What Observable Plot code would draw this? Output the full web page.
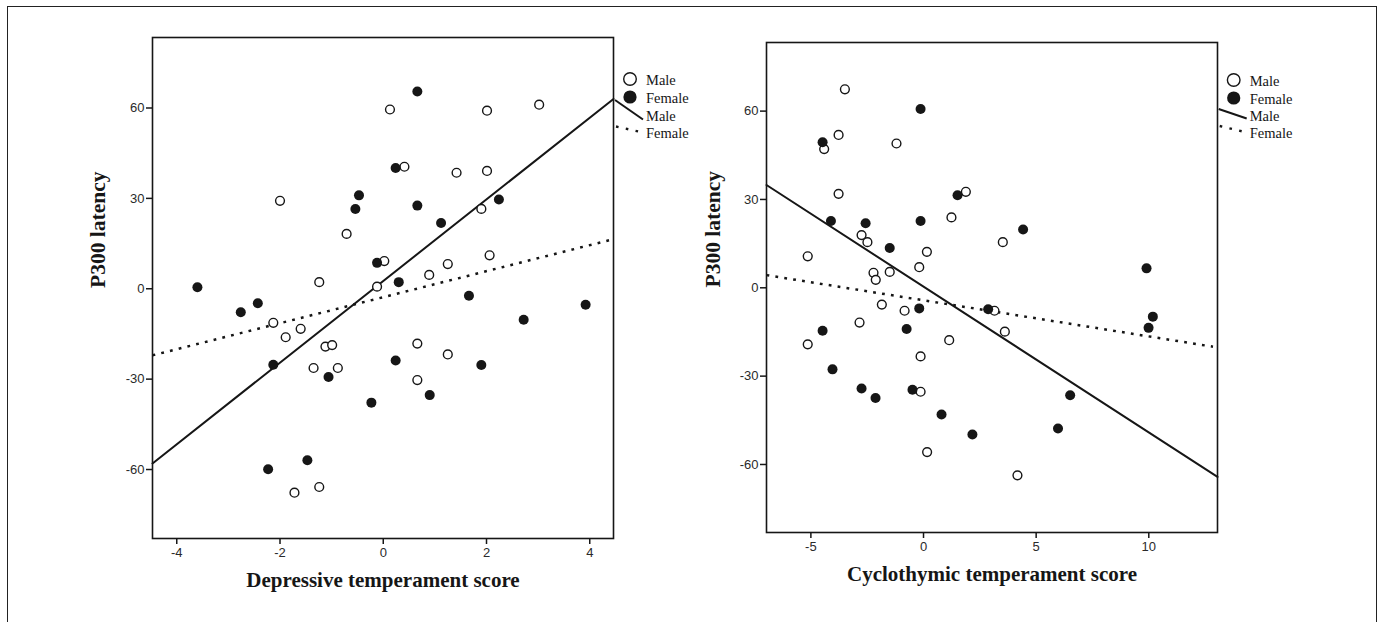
<!DOCTYPE html>
<html>
<head>
<meta charset="utf-8">
<script src="https://cdn.jsdelivr.net/npm/d3@7"></script>
<script src="https://cdn.jsdelivr.net/npm/@observablehq/plot@0.6"></script>
<style>
  html, body { margin: 0; padding: 0; background: #fff; }
  #wrap { position: relative; width: 1380px; height: 622px; overflow: hidden; background: #fff; }
  #border { position: absolute; left: 7px; top: 6px; width: 1368px; height: 700px; border: 1.3px solid #222; box-sizing: content-box; }
  .panel { position: absolute; top: 0; }
  #legend { position: absolute; left: 0; top: 0; pointer-events: none; }
</style>
</head>
<body>
<div id="wrap"><div id="border"></div></div>
<script>
// ---------- Data ----------
const legendLabels = ["Male", "Female", "Male", "Female"];
const yLabel = "P300 latency";
const yTicks = [-60, -30, 0, 30, 60];

// Panel 1: Depressive temperament score
const depressiveLabel = "Depressive temperament score";
const depressiveTicks = [-4, -2, 0, 2, 4];
const depressiveMale = [
  [0.13, 59.5], [2.01, 59.1], [3.02, 61.1], [0.41, 40.5], [1.42, 38.5], [2.01, 39.1],
  [-2.0, 29.2], [1.90, 26.5], [-0.71, 18.2], [0.02, 9.2], [2.06, 11.1], [1.25, 8.2],
  [0.89, 4.6], [-1.24, 2.2], [-0.12, 0.7], [-2.13, -11.3], [-1.60, -13.3], [-1.89, -16.1],
  [-1.12, -19.2], [-0.99, -18.7], [-1.35, -26.3], [-0.88, -26.3], [0.66, -18.2], [1.25, -21.8],
  [0.66, -30.3], [-1.72, -67.7], [-1.24, -65.8]
];
const depressiveFemale = [
  [-3.60, 0.5], [-2.76, -7.8], [-2.43, -4.8], [0.66, 65.5], [0.24, 40.1], [-0.47, 31.0],
  [-0.54, 26.5], [0.66, 27.6], [1.12, 21.8], [2.24, 29.6], [-0.12, 8.6], [0.30, 2.2],
  [1.66, -2.3], [3.92, -5.3], [2.72, -10.3], [-2.13, -25.2], [-1.06, -29.3], [0.24, -23.8],
  [1.90, -25.3], [-0.23, -37.8], [0.90, -35.3], [-2.23, -59.9], [-1.47, -56.9]
];
const depressiveFitMale = [[-4.47, -58.0], [4.46, 63.0]];
const depressiveFitFemale = [[-4.47, -22.1], [4.40, 16.2]];

// Panel 2: Cyclothymic temperament score
const cyclothymicLabel = "Cyclothymic temperament score";
const cyclothymicTicks = [-5, 0, 5, 10];
const cyclothymicMale = [
  [-3.49, 67.4], [-3.77, 51.9], [-4.41, 47.1], [-1.20, 49.0], [-3.77, 31.9], [1.88, 32.6],
  [1.24, 23.9], [-2.75, 17.9], [-2.49, 15.5], [3.52, 15.5], [0.15, 12.2], [-5.14, 10.7],
  [-0.19, 7.0], [-2.22, 5.1], [-1.50, 5.4], [-2.12, 2.7], [-1.85, -5.7], [-0.84, -7.8],
  [3.15, -7.8], [-2.84, -11.8], [-5.14, -19.2], [1.14, -17.8], [3.61, -14.9], [-0.13, -23.3],
  [-0.13, -35.3], [0.16, -55.8], [4.17, -63.7]
];
const cyclothymicFemale = [
  [-0.13, 60.7], [-4.48, 49.4], [1.51, 31.4], [-4.11, 22.7], [-2.57, 21.9], [-0.13, 22.7],
  [4.42, 19.8], [-1.50, 13.5], [9.90, 6.6], [-0.19, -7.0], [2.87, -7.3], [10.18, -9.8],
  [9.99, -13.6], [-4.48, -14.6], [-0.75, -14.0], [-4.04, -27.7], [-2.75, -34.2], [-2.13, -37.4],
  [-0.49, -34.6], [0.80, -43.0], [2.17, -49.8], [5.97, -47.8], [6.51, -36.5]
];
const cyclothymicFitMale = [[-6.97, 34.9], [13.05, -64.2]];
const cyclothymicFitFemale = [[-6.97, 4.3], [12.85, -20.0]];

// ---------- Drawing ----------
const INK = "#161616";
const SANS = "'Liberation Sans', Arial, sans-serif";
const SERIF = "'Liberation Serif', 'Times New Roman', serif";

function panel({xDomain, yDomain, xTicks, xLabel, male, female, fitMale, fitFemale, margins, ylabDx}) {
  return Plot.plot({
    width: 690,
    height: 622,
    marginLeft: margins[0],
    marginRight: margins[1],
    marginTop: margins[2],
    marginBottom: margins[3],
    style: {fontFamily: SANS, fontSize: "13px", color: "#2a2a2a", background: "transparent"},
    x: {domain: xDomain},
    y: {domain: yDomain},
    marks: [
      Plot.axisX({ticks: xTicks, tickSize: 6, tickPadding: 3, tickFormat: d => String(d), label: null, stroke: INK, strokeWidth: 1.5, fill: "#2a2a2a", fontSize: 13}),
      Plot.axisY({ticks: yTicks, tickSize: 6, tickPadding: 2, tickFormat: d => String(d), label: null, stroke: INK, strokeWidth: 1.5, fill: "#2a2a2a", fontSize: 13}),
      Plot.line(fitFemale, {x: d => d[0], y: d => d[1], stroke: INK, strokeWidth: 2.5, strokeDasharray: "2.8,6.2", strokeLinecap: "butt"}),
      Plot.line(fitMale, {x: d => d[0], y: d => d[1], stroke: INK, strokeWidth: 2}),
      Plot.dot(male, {x: d => d[0], y: d => d[1], r: 4.4, stroke: INK, strokeWidth: 1.4, fill: "white"}),
      Plot.dot(female, {x: d => d[0], y: d => d[1], r: 5, fill: INK, stroke: "none"}),
      Plot.frame({stroke: INK, strokeWidth: 1.6}),
      Plot.text([xLabel], {text: d => d, frameAnchor: "bottom", lineAnchor: "bottom", dy: 48, fontFamily: SERIF, fontWeight: "bold", fontSize: 21, fill: INK}),
      Plot.text([yLabel], {text: d => d, frameAnchor: "left", rotate: -90, dx: ylabDx, fontFamily: SERIF, fontWeight: "bold", fontSize: 21.5, fill: INK})
    ]
  });
}

const wrap = document.getElementById("wrap");

const p1 = panel({
  xDomain: [-4.47, 4.46], yDomain: [-82.9, 83.4], xTicks: depressiveTicks, xLabel: depressiveLabel,
  male: depressiveMale, female: depressiveFemale, fitMale: depressiveFitMale, fitFemale: depressiveFitFemale,
  margins: [152, 77, 37, 84], ylabDx: -54
});
p1.classList.add("panel");
p1.style.left = "0px";
wrap.appendChild(p1);

const p2 = panel({
  xDomain: [-6.97, 13.05], yDomain: [-83.1, 83.3], xTicks: cyclothymicTicks, xLabel: cyclothymicLabel,
  male: cyclothymicMale, female: cyclothymicFemale, fitMale: cyclothymicFitMale, fitFemale: cyclothymicFitFemale,
  margins: [76, 163, 42, 90], ylabDx: -53
});
p2.classList.add("panel");
p2.style.left = "690px";
wrap.appendChild(p2);

// ---------- Legends (outside each frame, SPSS style) ----------
const legendSvg = d3.select(wrap).append("svg")
  .attr("id", "legend").attr("width", 1380).attr("height", 622);

function legend(g, fx, base, solid, dotted) {
  // fx: frame right edge
  g.append("circle").attr("cx", fx + 17).attr("cy", base[0] - 5.5).attr("r", 6.3)
    .attr("fill", "white").attr("stroke", INK).attr("stroke-width", 1.4);
  g.append("circle").attr("cx", fx + 17).attr("cy", base[1] - 5.5).attr("r", 6.6).attr("fill", INK);
  g.append("line").attr("x1", fx + 2).attr("y1", solid[0]).attr("x2", fx + 30).attr("y2", solid[1])
    .attr("stroke", INK).attr("stroke-width", 2);
  g.append("line").attr("x1", fx + 3).attr("y1", dotted[0]).attr("x2", fx + 28).attr("y2", dotted[1])
    .attr("stroke", INK).attr("stroke-width", 2.4).attr("stroke-dasharray", "2.6,7.4");
  legendLabels.forEach((t, i) => {
    g.append("text").attr("x", fx + 33).attr("y", base[i])
      .attr("font-family", SERIF).attr("font-size", 14.5).attr("fill", INK).text(t);
  });
}
legend(legendSvg.append("g"), 613, [84.5, 102.5, 120.5, 137.5], [100, 119.5], [126.5, 132]);
legend(legendSvg.append("g"), 1216.7, [85.5, 103.5, 121, 137.5], [109, 118.5], [126, 132]);
</script>
</body>
</html>
